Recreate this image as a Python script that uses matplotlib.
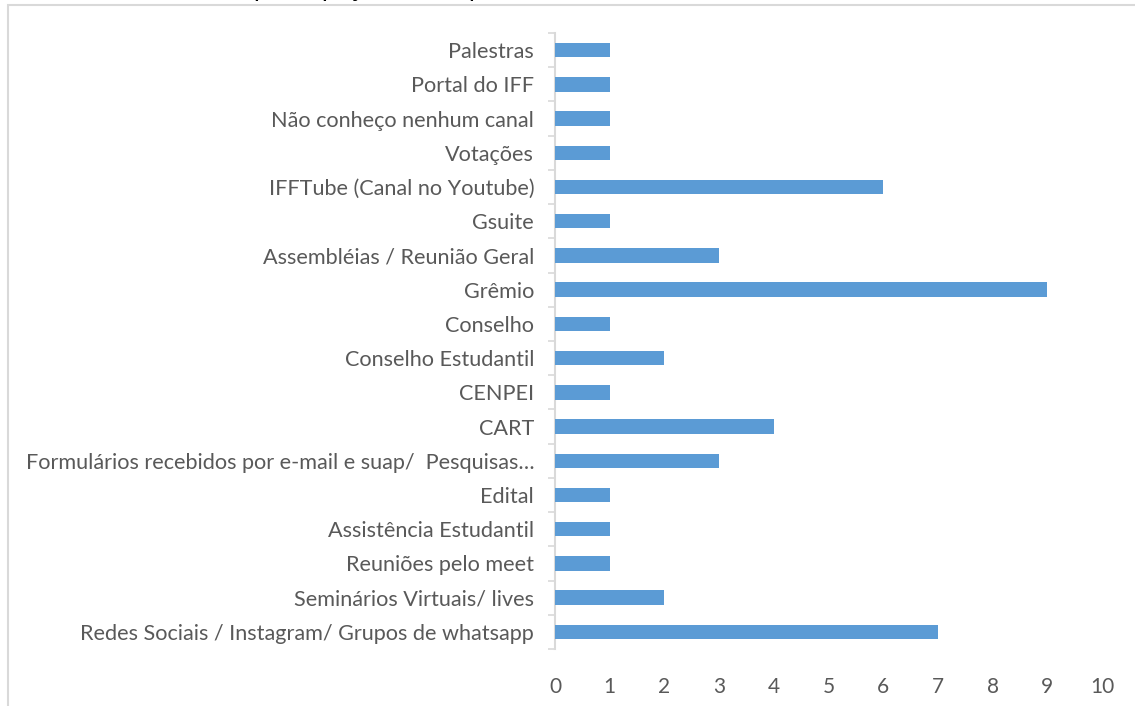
import matplotlib
matplotlib.use("Agg")
import matplotlib.pyplot as plt
from matplotlib.patches import Rectangle
from matplotlib.ticker import FixedLocator

# categories listed bottom -> top, as the chart draws them
categories = [
    'Redes Sociais / Instagram/ Grupos de whatsapp',
    'Seminários Virtuais/ lives',
    'Reuniões pelo meet',
    'Assistência Estudantil',
    'Edital',
    'Formulários recebidos por e-mail e suap/  Pesquisas…',
    'CART',
    'CENPEI',
    'Conselho Estudantil',
    'Conselho',
    'Grêmio',
    'Assembléias / Reunião Geral',
    'Gsuite',
    'IFFTube (Canal no Youtube)',
    'Votações',
    'Não conheço nenhum canal',
    'Portal do IFF',
    'Palestras',
]
counts = [7, 2, 1, 1, 1, 3, 4, 1, 2, 1, 9, 3, 1, 6, 1, 1, 1, 1]
x_ticks = list(range(0, 11))

bar_color = '#5B9BD5'
text_color = '#595959'
line_color = '#D9D9D9'

plt.rcParams['font.family'] = ['Lato', 'DejaVu Sans']

fig = plt.figure(figsize=(11.35, 7.06), dpi=100)
ax = fig.add_axes([555 / 1135, 1 - 649 / 706, 547 / 1135, 616 / 706])

ypos = list(range(len(categories)))
ax.barh(ypos, counts, height=0.42, color=bar_color, zorder=3)

ax.set_xlim(0, 10)
ax.set_ylim(-0.5, len(categories) - 0.5)
ax.set_xticks(x_ticks)
ax.set_xticklabels([str(t) for t in x_ticks])
ax.set_yticks(ypos)
ax.set_yticklabels(categories)
ax.yaxis.set_minor_locator(FixedLocator([i - 0.5 for i in range(len(categories) + 1)]))

ax.tick_params(axis='x', length=0, pad=20, labelsize=15, labelcolor=text_color)
ax.tick_params(axis='y', which='major', length=0, pad=15, labelsize=15.6, labelcolor=text_color)
ax.tick_params(axis='y', which='minor', length=5, width=1.2, color=line_color)

for side in ['top', 'right', 'bottom']:
    ax.spines[side].set_visible(False)
ax.spines['left'].set_color(line_color)
ax.spines['left'].set_linewidth(1.5)

# chart area border (cut off on the right and bottom in the source image)
fig.patches.append(Rectangle((8 / 1135, -0.2), 1.2, 1.2 - 5 / 706,
                             transform=fig.transFigure, fill=False,
                             edgecolor=line_color, linewidth=1.5))

# title cut off at the top of the image, only descenders visible
fig.text(142 / 1135, 1 + 3 / 706, 'Canais de participação no IFF pelos alunos',
         fontsize=18, color='black', va='baseline', ha='left')

fig.savefig('out.png', dpi=100)
